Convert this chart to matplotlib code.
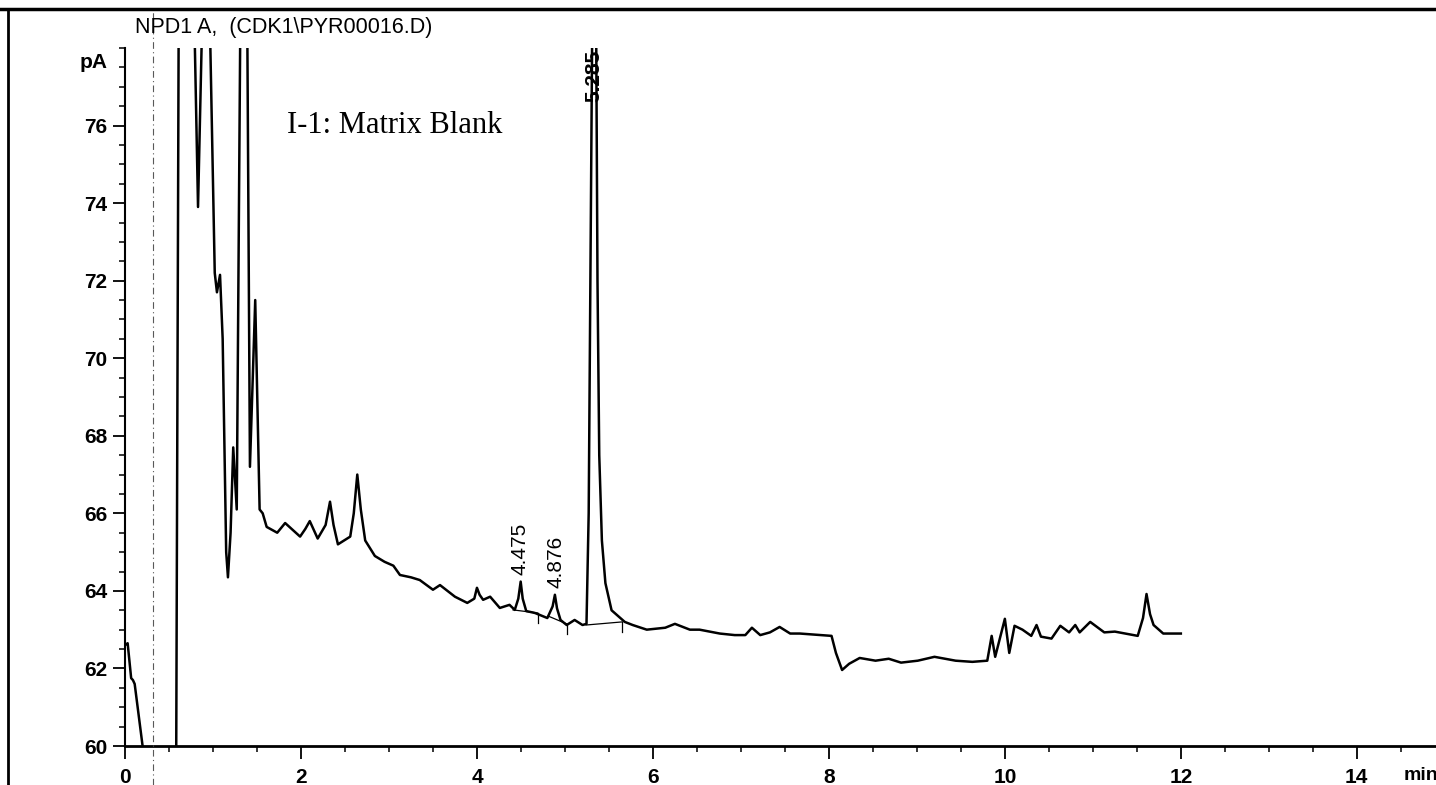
import numpy as np
import matplotlib.pyplot as plt
from matplotlib.ticker import MultipleLocator
from matplotlib.lines import Line2D

plt.rcParams['font.family'] = ['Liberation Sans', 'DejaVu Sans']

# retention time (min) and detector signal (pA); values above 78 / below 60 run off scale
t = [0.00, 0.03, 0.07, 0.09, 0.11, 0.20, 0.25, 0.575, 0.615, 0.70, 0.79, 0.83, 0.875,
     0.92, 0.966, 1.02, 1.045, 1.08, 1.11, 1.15, 1.17, 1.20, 1.23, 1.27, 1.31, 1.35,
     1.39, 1.42, 1.48, 1.53, 1.565, 1.61, 1.73, 1.82, 1.99, 2.05, 2.10, 2.15, 2.19,
     2.28, 2.33, 2.37, 2.42, 2.56, 2.60, 2.64, 2.68, 2.73, 2.84, 2.95, 3.05, 3.125,
     3.25, 3.35, 3.50, 3.58, 3.75, 3.89, 3.97, 4.00, 4.03, 4.07, 4.15, 4.26, 4.37,
     4.43, 4.47, 4.497, 4.52, 4.56, 4.66, 4.80, 4.86, 4.886, 4.91, 4.95, 5.02,
     5.11, 5.20, 5.245, 5.27, 5.31, 5.33, 5.355, 5.37, 5.39, 5.42, 5.46, 5.53, 5.68,
     5.77, 5.93, 6.14, 6.25, 6.42, 6.53, 6.76, 6.93, 7.05, 7.125, 7.22, 7.33, 7.44,
     7.56, 7.67, 8.03, 8.08, 8.15, 8.23, 8.35, 8.53, 8.68, 8.82, 9.01, 9.20, 9.44,
     9.63, 9.80, 9.85, 9.89, 10.00, 10.05, 10.11, 10.20, 10.30, 10.36, 10.41, 10.53,
     10.63, 10.73, 10.80, 10.85, 10.97, 11.13, 11.25, 11.51, 11.57, 11.61, 11.65,
     11.69, 11.75, 11.80, 12.00]
signal = [62.6, 62.65, 61.75, 61.7, 61.6, 60.0, 57.0, 55.0, 82.0, 150.0, 78.5, 73.9, 78.5,
          120.0, 78.5, 72.2, 71.7, 72.15, 70.5, 65.0, 64.35, 65.5, 67.7, 66.1, 78.5, 120.0,
          78.5, 67.2, 71.5, 66.1, 66.0, 65.65, 65.5, 65.75, 65.4, 65.6, 65.8, 65.55, 65.35,
          65.7, 66.3, 65.7, 65.2, 65.4, 66.0, 67.0, 66.1, 65.3, 64.9, 64.75, 64.65, 64.41,
          64.35, 64.28, 64.03, 64.15, 63.85, 63.69, 63.8, 64.08, 63.9, 63.77, 63.85, 63.56, 63.64,
          63.51, 63.8, 64.24, 63.8, 63.48, 63.43, 63.3, 63.6, 63.9, 63.55, 63.25, 63.12,
          63.25, 63.12, 63.15, 66.0, 78.5, 100.0, 78.5, 72.0, 67.5, 65.3, 64.2, 63.5, 63.2,
          63.12, 63.0, 63.05, 63.15, 63.0, 63.0, 62.9, 62.86, 62.86, 63.05, 62.86, 62.93, 63.07,
          62.9, 62.9, 62.84, 62.4, 61.96, 62.12, 62.27, 62.2, 62.25, 62.15, 62.2, 62.3, 62.2,
          62.17, 62.2, 62.84, 62.3, 63.28, 62.4, 63.1, 63.0, 62.84, 63.12, 62.82, 62.77,
          63.1, 62.93, 63.12, 62.93, 63.2, 62.93, 62.95, 62.84, 63.3, 63.92, 63.4,
          63.12, 63.0, 62.9, 62.9]

# integrated peaks: label, label position, baseline segment
peak_labels = ['4.475', '4.876', '5.285']
label_x = [4.49, 4.90, 5.33]
label_y = [64.41, 64.08, 76.6]
base_x = [[4.41, 4.69], [4.81, 5.02], [5.24, 5.65]]
base_y = [[63.51, 63.43], [63.35, 63.15], [63.12, 63.20]]

x_ticks = [0, 2, 4, 6, 8, 10, 12, 14]
y_ticks = [60, 62, 64, 66, 68, 70, 72, 74, 76]

W, H = 1436, 785
fig = plt.figure(figsize=(W / 100, H / 100), dpi=100)
ax = fig.add_axes([125 / W, 1 - 746 / H, (W - 125) / W, (746 - 48) / H])

ax.plot(t, signal, color='black', lw=1.8, solid_joinstyle='round')
for bx, by in zip(base_x, base_y):
    ax.plot(bx, by, color='black', lw=0.9)
    ax.plot([bx[1], bx[1]], [by[1], by[1] - 0.25], color='black', lw=0.9)

for lab, lx, ly in zip(peak_labels, label_x, label_y):
    ax.text(lx, ly, lab, rotation=90, ha='center', va='bottom', fontsize=15,
            fontweight='bold' if lab == '5.285' else 'normal')

ax.text(1.84, 76.0, 'I-1: Matrix Blank', family='Liberation Serif', fontsize=22, va='center')

ax.set_xlim(0, 14.9)
ax.set_ylim(60, 78)
ax.set_xticks(x_ticks, [str(v) for v in x_ticks], fontweight='bold', fontsize=15)
ax.set_yticks(y_ticks, [str(v) for v in y_ticks], fontweight='bold', fontsize=15)
ax.xaxis.set_minor_locator(MultipleLocator(0.5))
ax.yaxis.set_minor_locator(MultipleLocator(0.5))
ax.tick_params(axis='x', which='major', length=9, width=1.3, pad=7)
ax.tick_params(axis='y', which='major', length=9, width=1.3, pad=3.5)
ax.tick_params(which='minor', length=4.5, width=1.1)
ax.spines['top'].set_visible(False)
ax.spines['right'].set_visible(False)
ax.spines['left'].set_linewidth(1.5)
ax.spines['bottom'].set_linewidth(2)

fig.text(108 / W, 1 - 62 / H, 'pA', ha='right', va='center', fontsize=15, fontweight='bold')
fig.text(1404 / W, 1 - 776 / H, 'min', ha='left', va='center', fontsize=14, fontweight='bold')
fig.text(135 / W, 1 - 27 / H, 'NPD1 A,  (CDK1\\PYR00016.D)', ha='left', va='center', fontsize=15.5)

# page frame and scan fold line
fig.add_artist(Line2D([0, 1], [1 - 9 / H, 1 - 9 / H], transform=fig.transFigure, color='black', lw=2.5))
fig.add_artist(Line2D([8 / W, 8 / W], [0, 1 - 9 / H], transform=fig.transFigure, color='black', lw=2))
fig.add_artist(Line2D([153 / W, 153 / W], [0, 1 - 12 / H], transform=fig.transFigure,
                      color='0.35', lw=0.8, ls=(0, (6, 3, 1, 3))))

fig.savefig('out.png', dpi=100)
